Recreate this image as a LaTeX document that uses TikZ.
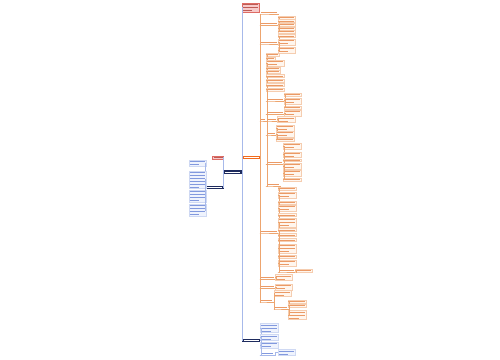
\documentclass[tikz,border=0pt]{standalone}
\usepackage{tikz}

\definecolor{navy}{HTML}{1E2B5E}
\definecolor{orng}{HTML}{F26B1D}
\definecolor{oline}{HTML}{EDA56F}
\definecolor{otext}{HTML}{EB9A66}
\definecolor{ofill}{HTML}{FFF6EE}
\definecolor{bline}{HTML}{A7B9EA}
\definecolor{btext}{HTML}{8299DE}
\definecolor{bfill}{HTML}{EFF3FD}
\definecolor{rline}{HTML}{DE6B64}
\definecolor{rfill}{HTML}{F7CACA}

% one pixel of the sheet
\newdimen\pxu \pxu=0.5pt
% lines of tiny text: #1 lines, #2 px wide
\newcommand\tl[2]{\vbox{\offinterlineskip
  \ifnum#1>1
    \foreach\ii in {2,...,#1}{\hrule width #2\pxu height .45pt\vskip 1.05pt}%
    \hrule width \dimexpr#2\pxu*3/5\relax height .45pt
  \else
    \hrule width #2\pxu height .45pt
  \fi}}

\tikzset{
  conn/.style={line width=0.45pt},
  oconn/.style={conn, draw=oline},
  bconn/.style={conn, draw=bline},
  leafbox/.style={line width=0.2pt, inner sep=0.5pt, anchor=west},
  obox/.style={leafbox, draw=oline!55, fill=ofill, text=otext},
  bbox/.style={leafbox, draw=bline!55, fill=bfill, text=btext},
  olab/.style={inner sep=0.5pt, anchor=south west, text=otext},
  blab/.style={inner sep=0.5pt, anchor=south west, text=btext},
  topic/.style={fill=navy, text=white, inner sep=0.6pt},
  redbox/.style={draw=rline, fill=rfill, text=rline!85!black, inner sep=0.5pt, line width=0.25pt},
  mainbox/.style={fill=orng, text=white, inner sep=0.6pt, anchor=west},
}

\begin{document}
\begin{tikzpicture}[x=0.5pt,y=-0.5pt]
  \fill[white] (0,0) rectangle (500,360);
  \useasboundingbox (0,0) rectangle (500,360);

  % Mitte
  \node[topic] (root) at (233,172) {\tl{1}{15}};
  \node[redbox, anchor=north west] (ttl) at (242,3) {\tl{3}{15}};
  \node[mainbox] (main) at (242,157.5) {\tl{1}{15}};
  \node[topic, anchor=west] (bot) at (242,340.5) {\tl{1}{15}};
  \node[redbox, anchor=east] (pnk) at (224,157.3) {\tl{1}{9}};
  \node[topic, anchor=east] (lft) at (224,187.5) {\tl{1}{15}};

  \foreach \nd in {ttl,main,bot}
    \draw[bconn] (root.east) -- ++(0.5,0) |- (\nd.west);
  \foreach \nd in {pnk,lft}
    \draw[bconn] (root.west) -- ++(-0.5,0) |- (\nd.east);

  % linke Seite
  \foreach \n/\y/\nl in {1/163.3/2, 2/179.7/6, 3/196/4, 4/210/4} {
    \node[bbox, anchor=east] (bl\n) at (206,\y) {\tl{\nl}{15}};
    \draw[bconn] (lft.west) -- ++(-0.5,0) |- (bl\n.east);
  }

  % orange Zweige
  \foreach \n/\y/\w in {A1/14/16, A2/25.5/16, A3/44/16, A4/121/4, A5/233/16, A6/279.5/13, A7/288.5/13, A8/302/11} {
    \node[olab] (\n) at (260,\y) {\tl{1}{\w}};
    \draw[oconn] (main.east) -- ++(0.5,0) |- (\n.south west) -- (\n.south east);
  }

  \foreach \n/\y in {1/17.3, 2/21, 3/24.5, 4/28.3, 5/31.7} {
    \node[obox] (A2\n) at (278,\y) {\tl{1}{15}};
    \draw[oconn] (A2.south east) -- ++(0.5,0) |- (A2\n.west);
  }
  \foreach \n/\y/\nl in {1/36/1, 2/42/2, 3/50/2} {
    \node[obox] (A3\n) at (278,\y) {\tl{\nl}{15}};
    \draw[oconn] (A3.south east) -- ++(0.5,0) |- (A3\n.west);
  }

  % A4
  \foreach \n/\y/\w/\nl in {a/54.3/11/1, b/58.3/7/1, c/63/16/2, d/68.3/12/1, e/71.8/12/1, f/76/16/1, g/80.5/16/1, h/85/16/1, i/89.3/16/1} {
    \node[obox] (A4\n) at (266,\y) {\tl{\nl}{\w}};
    \draw[oconn] (A4.south east) -- ++(0.5,0) |- (A4\n.west);
  }
  \foreach \n/\y/\w in {j/101/16, k/114.5/16, l/121/9, m/135/8, n/164.5/15, o/186/12} {
    \node[olab] (A4\n) at (266,\y) {\tl{1}{\w}};
    \draw[oconn] (A4.south east) -- ++(0.5,0) |- (A4\n.south west) -- (A4\n.south east);
  }
  \foreach \n/\y/\nl in {1/94.3/1, 2/100.8/2, 3/107.3/1} {
    \node[obox] (A4j\n) at (284,\y) {\tl{\nl}{15}};
    \draw[oconn] (A4j.south east) -- ++(0.5,0) |- (A4j\n.west);
  }
  \node[obox] (A4k1) at (284,113.3) {\tl{2}{15}};
  \draw[oconn] (A4k.south east) -- ++(0.5,0) |- (A4k1.west);
  \node[obox] (A4l1) at (277,119.5) {\tl{2}{16}};
  \draw[oconn] (A4l.south east) -- ++(0.5,0) |- (A4l1.west);
  \foreach \n/\y/\nl in {1/128/2, 2/134.3/2, 3/139.5/1} {
    \node[obox] (A4m\n) at (276,\y) {\tl{\nl}{16}};
    \draw[oconn] (A4m.south east) -- ++(0.5,0) |- (A4m\n.west);
  }
  \foreach \n/\y/\nl in {1/146.3/2, 2/154.7/2, 3/160.2/1, 4/166.3/2, 5/173.3/2, 6/179.7/1} {
    \node[obox] (A4n\n) at (283,\y) {\tl{\nl}{16}};
    \draw[oconn] (A4n.south east) -- ++(0.5,0) |- (A4n\n.west);
  }

  % A5
  \foreach \n/\y/\nl in {1/188.3/1, 2/195/2, 3/202.3/1, 4/208.3/2, 5/215/1, 6/222.5/3, 7/230/1, 8/235/1, 9/240/1, 10/248.3/3, 11/256.7/1, 12/263.3/2} {
    \node[obox] (A5\n) at (278,\y) {\tl{\nl}{16}};
    \draw[oconn] (A5.south east) -- ++(0.5,0) |- (A5\n.west);
  }
  \node[olab] (A5m) at (278,272) {\tl{1}{15}};
  \draw[oconn] (A5.south east) -- ++(0.5,0) |- (A5m.south west) -- (A5m.south east);
  \node[obox] (A5m1) at (295,270.5) {\tl{1}{15}};
  \draw[oconn] (A5m.south east) -- ++(0.5,0) |- (A5m1.west);

  % A6 - A8
  \node[obox] (A61) at (275,277.5) {\tl{2}{15}};
  \draw[oconn] (A6.south east) -- ++(0.5,0) |- (A61.west);
  \node[obox] (A71) at (275,287) {\tl{2}{15}};
  \draw[oconn] (A7.south east) -- ++(0.5,0) |- (A71.west);
  \node[obox] (A81) at (274,293.5) {\tl{2}{15}};
  \draw[oconn] (A8.south east) -- ++(0.5,0) |- (A81.west);
  \node[olab] (A8b) at (274,309) {\tl{1}{12}};
  \draw[oconn] (A8.south east) -- ++(0.5,0) |- (A8b.south west) -- (A8b.south east);
  \foreach \n/\y/\nl in {1/301.3/1, 2/305.5/1, 3/315/3} {
    \node[obox] (A8b\n) at (288,\y) {\tl{\nl}{16}};
    \draw[oconn] (A8b.south east) -- ++(0.5,0) |- (A8b\n.west);
  }

  % unten blau
  \foreach \n/\y/\nl in {1/328/3, 2/337.5/2, 3/345.3/2} {
    \node[bbox] (bb\n) at (260,\y) {\tl{\nl}{16}};
    \draw[bconn] (bot.east) -- ++(1,0) |- (bb\n.west);
  }
  \node[blab] (bb4) at (260,355.5) {\tl{1}{12}};
  \draw[bconn] (bot.east) -- ++(1,0) |- (bb4.south west) -- (bb4.south east);
  \node[bbox] (bb41) at (278,352.5) {\tl{2}{15}};
  \draw[bconn] (bb4.south east) -- ++(0.5,0) |- (bb41.west);

\end{tikzpicture}
\end{document}
